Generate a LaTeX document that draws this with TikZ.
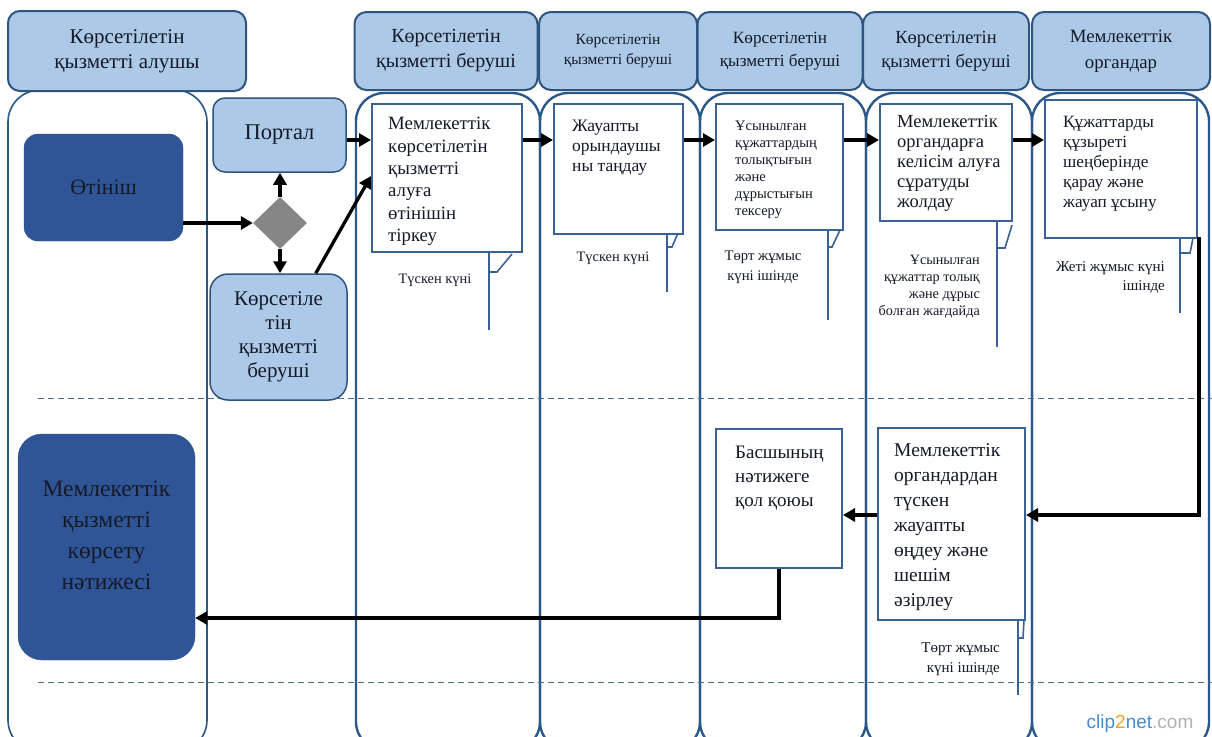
\documentclass[tikz,border=0pt]{standalone}
\usepackage{fontspec}
\setmainfont{Liberation Serif}
\setsansfont{Liberation Sans}
\usetikzlibrary{shapes.geometric,arrows.meta}
\definecolor{hdr}{RGB}{172,202,232}
\definecolor{hdrline}{RGB}{46,84,128}
\definecolor{laneline}{RGB}{44,88,136}
\definecolor{dark}{RGB}{47,85,151}
\definecolor{boxline}{RGB}{58,98,150}
\definecolor{dashc}{RGB}{70,110,155}
\definecolor{ink}{RGB}{22,26,40}
\definecolor{wmblue}{RGB}{70,140,210}
\definecolor{wmorange}{RGB}{240,160,40}
\newcommand{\fz}[2]{\fontsize{#1pt}{#2pt}\selectfont}
\begin{document}
\begin{tikzpicture}[x=1pt,y=-1pt,
  hdrbox/.style={draw=hdrline,line width=2pt,fill=hdr,rounded corners=12pt,align=center,inner sep=0pt,text=ink},
  lanebox/.style={draw=laneline,line width=2.4pt,rounded corners=28pt},
  lanebox1/.style={draw=laneline,line width=1.6pt,rounded corners=32pt},
  darkbox/.style={draw=dark,fill=dark,align=center,inner sep=0pt,text=ink},
  lightbox/.style={draw=hdrline,line width=1.5pt,fill=hdr,align=center,inner sep=0pt,text=ink},
  pbox/.style={draw=boxline,line width=2pt,fill=white,inner sep=0pt},
  ptext/.style={anchor=north west,align=left,inner sep=0pt,text=ink},
  anntext/.style={inner sep=0pt,text=ink},
  ann/.style={draw=boxline,line width=1.6pt},
  arr/.style={draw=black,line width=3.3pt,-{Triangle[length=12pt,width=13pt]}},
  seg/.style={draw=black,line width=3.3pt},
  dash line/.style={draw=dashc,line width=1pt,dash pattern=on 6pt off 4pt}]
\useasboundingbox (0,0) rectangle (1212,736);
\clip (0,0) rectangle (1212,736);
\fill[white] (0,0) rectangle (1212,736);

% lanes
\draw[lanebox1] (8,90) rectangle (207,752);
\draw[lanebox] (356,93) rectangle (540,750);
\draw[lanebox] (540,93) rectangle (700,750);
\draw[lanebox] (700,93) rectangle (866,750);
\draw[lanebox] (866,93) rectangle (1032,750);
\draw[lanebox] (1032,93) rectangle (1209,750);

% dashed separators
\draw[dash line] (38,398) -- (1212,398);
\draw[dash line] (38,682) -- (1212,682);

% headers
\node[hdrbox,minimum width=238pt,minimum height=80pt,font=\fz{21}{25}] (h1) at (127,51) {Көрсетілетін\\қызметті алушы};
\node[hdrbox,minimum width=183pt,minimum height=78pt,font=\fz{20}{25}] (h2) at (446,51) {Көрсетілетін\\қызметті беруші};
\node[hdrbox,minimum width=158pt,minimum height=78pt,font=\fz{15.5}{20}] (h3) at (618,51) {Көрсетілетін\\қызметті беруші};
\node[hdrbox,minimum width=165pt,minimum height=78pt,font=\fz{17.2}{23}] (h4) at (780,51) {Көрсетілетін\\қызметті беруші};
\node[hdrbox,minimum width=166pt,minimum height=78pt,font=\fz{18.5}{24}] (h5) at (946,51) {Көрсетілетін\\қызметті беруші};
\node[hdrbox,minimum width=178pt,minimum height=78pt,font=\fz{18.8}{26}] (h6) at (1121,51) {Мемлекеттік\\органдар};

% left lane nodes
\node[darkbox,rounded corners=14pt,minimum width=159pt,minimum height=107pt,font=\fz{22}{24}] (ot) at (103.5,187.5) {Өтініш};
\node[darkbox,rounded corners=24pt,minimum width=177pt,minimum height=226pt,font=\fz{23.5}{31}] (res) at (106.5,547) {Мемлекеттік\\қызметті\\көрсету\\нәтижесі\\[-8pt]\mbox{}};

% portal lane
\node[lightbox,rounded corners=12pt,minimum width=133pt,minimum height=74pt,font=\fz{22.5}{24}] (po) at (279.5,135) {Портал};
\node[lightbox,rounded corners=18pt,minimum width=137pt,minimum height=126pt,font=\fz{21}{24}] (kb) at (278.5,337) {Көрсетіле\\тін\\қызметті\\беруші};
\node[diamond,fill=gray!95,draw=none,minimum width=54pt,minimum height=52pt,inner sep=0pt] (dm) at (280,223) {};

% process boxes
\node[pbox,minimum width=150pt,minimum height=148pt] (A) at (447,178) {};
\node[pbox,minimum width=129pt,minimum height=130pt] (B) at (618.5,169) {};
\node[pbox,minimum width=127pt,minimum height=126pt] (C) at (779.5,167) {};
\node[pbox,minimum width=132pt,minimum height=117pt] (D) at (946,162.5) {};
\node[pbox,minimum width=152pt,minimum height=138pt] (E) at (1121,169) {};
\node[pbox,minimum width=147pt,minimum height=192pt] (F) at (951.5,524) {};
\node[pbox,minimum width=126pt,minimum height=139pt] (G) at (779,498.5) {};

\node[ptext,font=\fz{18.8}{22.4}] (At) at (388,117) {Мемлекеттік\\көрсетілетін\\қызметті\\алуға\\өтінішін\\тіркеу};
\node[ptext,font=\fz{17.5}{20}] (Bt) at (572,120) {Жауапты\\орындаушы\\ны таңдау};
\node[ptext,font=\fz{14.5}{17}] (Ct) at (735,121) {Ұсынылған\\құжаттардың\\толықтығын\\және\\дұрыстығын\\тексеру};
\node[ptext,font=\fz{18.5}{20}] (Dt) at (897,115) {Мемлекеттік\\органдарға\\келісім алуға\\сұратуды\\жолдау};
\node[ptext,font=\fz{17.2}{20}] (Et) at (1063,116) {Құжаттарды\\құзыреті\\шеңберінде\\қарау және\\жауап ұсыну};
\node[ptext,font=\fz{19.5}{25}] (Ft) at (894,443) {Мемлекеттік\\органдардан\\түскен\\жауапты\\өңдеу және\\шешім\\әзірлеу};
\node[ptext,font=\fz{19}{24}] (Gt) at (735,446) {Басшының\\нәтижеге\\қол қоюы};

% annotations
\draw[ann] (489,252) -- (489,330);
\draw[ann] (489,272) -- (497,272) -- (512,254);
\node[anntext,font=\fz{14.4}{17}] (a1) at (435,280) {Түскен күні};

\draw[ann] (667,234) -- (667,292);
\draw[ann] (667,247) -- (672,247) -- (678,233);
\node[anntext,font=\fz{14.4}{17}] (a2) at (613,258) {Түскен күні};

\draw[ann] (828,230) -- (828,320);
\draw[ann] (828,247) -- (832,247) -- (840,230);
\node[anntext,align=center,font=\fz{14.7}{20}] (a3) at (763,267) {Төрт жұмыс\\күні ішінде};

\draw[ann] (997,221) -- (997,347);
\draw[ann] (997,248) -- (1005,248) -- (1012,225);
\node[anntext,anchor=north east,align=right,font=\fz{14.2}{17}] (a4) at (980,255) {Ұсынылған\\құжаттар толық\\және дұрыс\\болған жағдайда};

\draw[ann] (1180,238) -- (1180,313);
\draw[ann] (1180,253) -- (1190,253) -- (1193,238);
\node[anntext,anchor=north east,align=right,font=\fz{15}{19}] (a5) at (1165,261) {Жеті жұмыс күні\\ішінде};

\draw[ann] (1018,620) -- (1018,695);
\draw[ann] (1018,638) -- (1023,638) -- (1024,620);
\node[anntext,anchor=north east,align=right,font=\fz{15}{20}] (a6) at (1000,642) {Төрт жұмыс\\күні ішінде};

% connectors
\coordinate (r1) at (0,140);
\coordinate (r2) at (0,515);
\coordinate (r3) at (0,618);
\draw[arr] (ot.east |- dm.west) -- (dm.west);
\draw[arr] (dm.north) -- (po.south -| dm.north);
\draw[arr] (dm.south) -- (kb.north -| dm.south);
\draw[arr] (po.east |- r1) -- (A.west |- r1);
\draw[arr] ([xshift=-32pt]kb.north east) -- ([yshift=2pt]A.west);
\draw[arr] (A.east |- r1) -- (B.west |- r1);
\draw[arr] (B.east |- r1) -- (C.west |- r1);
\draw[arr] (C.east |- r1) -- (D.west |- r1);
\draw[arr] (D.east |- r1) -- (E.west |- r1);
\coordinate (ec) at ([xshift=1pt]E.south east);
\draw[seg,line cap=rect] (ec) -- (ec |- r2);
\draw[arr] (ec |- r2) -- (F.east |- r2);
\draw[arr] (F.west |- r2) -- (G.east |- r2);
\draw[seg] (G.south) -- (G.south |- r3);
\draw[arr] ([xshift=1.65pt]G.south |- r3) -- (res.east |- r3);

% watermark
\node[inner sep=0pt,font=\sffamily\fz{19}{19}] (wm) at (1140,724) {{\color{wmblue}clip}{\color{wmorange}2}{\color{wmblue}net}{\color{gray!60}.com}};
\end{tikzpicture}
\end{document}
